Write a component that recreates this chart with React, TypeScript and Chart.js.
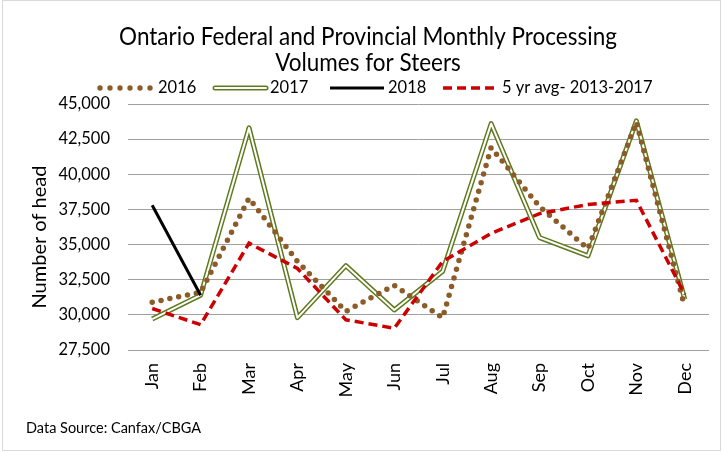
import React, { useEffect, useRef } from 'react';
import { Chart, registerables } from 'chart.js';

Chart.register(...registerables);

const months = ['Jan', 'Feb', 'Mar', 'Apr', 'May', 'Jun', 'Jul', 'Aug', 'Sep', 'Oct', 'Nov', 'Dec'];
const v2016 = [30900, 31600, 38300, 33800, 30250, 32100, 29800, 41900, 37700, 34700, 43700, 30550];
const v2017 = [29700, 31400, 43300, 29800, 33500, 30350, 33100, 43600, 35500, 34200, 43800, 31100];
const v2018 = [37800, 31400];
const v5yr = [30450, 29300, 35100, 33300, 29650, 29050, 33800, 35800, 37200, 37850, 38150, 31450];

const yMin = 27500;
const yMax = 45000;
const yStep = 2500;

const titleLines = ['Ontario Federal and Provincial Monthly Processing', 'Volumes for Steers'];
const legendLabels = ['2016', '2017', '2018', '5 yr avg- 2013-2017'];
const yTitle = 'Number of head';
const sourceText = 'Data Source: Canfax/CBGA';

const C2016 = '#8c5c28';
const C2017 = '#5f7a1e';
const C2018 = '#000000';
const C5YR = '#cc0000';
const FONT = 'Lato, "Liberation Sans", sans-serif';

const decor = {
  id: 'decor',
  afterDraw(chart: any) {
    const ctx: CanvasRenderingContext2D = chart.ctx;
    ctx.save();
    // outer border
    ctx.strokeStyle = '#d9d9d9';
    ctx.lineWidth = 1;
    ctx.strokeRect(2.5, 0.5, 718, 450);

    // title (slightly stretched vertically like the source image)
    ctx.fillStyle = '#000';
    ctx.textAlign = 'center';
    ctx.textBaseline = 'middle';
    ctx.font = `22.5px ${FONT}`;
    titleLines.forEach((t, i) => {
      ctx.save();
      ctx.translate(368, 37 + i * 26);
      ctx.scale(1, 1.12);
      ctx.fillText(t, 0, 0);
      ctx.restore();
    });

    // legend
    const ly = 88;
    ctx.font = `16.5px ${FONT}`;
    ctx.textAlign = 'left';
    ctx.fillStyle = C2016;
    for (let i = 0; i < 6; i++) {
      ctx.beginPath();
      ctx.arc(100 + i * 10, ly, 2.7, 0, Math.PI * 2);
      ctx.fill();
    }
    ctx.fillStyle = '#000';
    ctx.fillText(legendLabels[0], 158, ly);
    ctx.lineCap = 'round';
    ctx.strokeStyle = C2017;
    ctx.lineWidth = 5;
    ctx.beginPath(); ctx.moveTo(215, ly); ctx.lineTo(266, ly); ctx.stroke();
    ctx.strokeStyle = '#fff';
    ctx.lineWidth = 2;
    ctx.beginPath(); ctx.moveTo(215, ly); ctx.lineTo(266, ly); ctx.stroke();
    ctx.fillText(legendLabels[1], 270, ly);
    ctx.strokeStyle = C2018;
    ctx.lineWidth = 3;
    ctx.lineCap = 'butt';
    ctx.beginPath(); ctx.moveTo(330, ly); ctx.lineTo(384, ly); ctx.stroke();
    ctx.fillText(legendLabels[2], 388, ly);
    ctx.strokeStyle = C5YR;
    ctx.lineWidth = 3.5;
    ctx.setLineDash([9, 5]);
    ctx.beginPath(); ctx.moveTo(443, ly); ctx.lineTo(497, ly); ctx.stroke();
    ctx.setLineDash([]);
    ctx.fillText(legendLabels[3], 502, ly);

    // y title
    ctx.save();
    ctx.font = `20px ${FONT}`;
    ctx.textAlign = 'center';
    ctx.translate(40, 237);
    ctx.rotate(-Math.PI / 2);
    ctx.fillText(yTitle, 0, 0);
    ctx.restore();

    // source
    ctx.font = `14.5px ${FONT}`;
    ctx.textAlign = 'left';
    ctx.fillText(sourceText, 26, 428);
    ctx.restore();
  },
};

export default function App() {
  const ref = useRef<HTMLCanvasElement>(null);
  useEffect(() => {
    if (!ref.current) return;
    const chart = new Chart(ref.current, {
      type: 'line',
      data: {
        labels: months,
        datasets: [
          {
            label: '2018', data: v2018, borderColor: C2018, borderWidth: 3,
            pointRadius: 0, tension: 0, fill: false,
          },
          {
            label: '5 yr avg- 2013-2017', data: v5yr, borderColor: C5YR, borderWidth: 3.5,
            borderDash: [9, 5], pointRadius: 0, tension: 0, fill: false,
          },
          {
            label: '2016', data: v2016, borderColor: C2016, borderWidth: 5.5,
            borderDash: [0, 9], borderCapStyle: 'round', pointRadius: 0, tension: 0, fill: false,
          },
          {
            label: '2017 inner', data: v2017, borderColor: '#ffffff', borderWidth: 2,
            pointRadius: 0, tension: 0, fill: false, borderJoinStyle: 'round',
          },
          {
            label: '2017', data: v2017, borderColor: C2017, borderWidth: 5,
            pointRadius: 0, tension: 0, fill: false, borderJoinStyle: 'round',
          },
        ],
      },
      options: {
        responsive: false,
        animation: false,
        layout: { padding: { top: 104, left: 0, right: 14, bottom: 0 } },
        plugins: {
          legend: { display: false },
          title: { display: false },
          tooltip: { enabled: false },
        },
        scales: {
          x: {
            offset: true,
            grid: { display: false, drawTicks: false, offset: true },
            border: { display: false },
            ticks: {
              color: '#000', font: { family: FONT, size: 18 },
              maxRotation: 90, minRotation: 90, padding: 13,
            },
            afterFit: (s: any) => { s.height = 102; },
          },
          y: {
            min: yMin, max: yMax,
            grid: { color: '#a0a0a0', lineWidth: 1, drawTicks: false },
            border: { display: false },
            ticks: {
              stepSize: yStep, color: '#000', font: { family: FONT, size: 16.5 }, padding: 18,
              callback: (v: any) => Number(v).toLocaleString('en-US'),
            },
            afterFit: (s: any) => { s.width = 128; },
          },
        },
      },
      plugins: [decor],
    });
    return () => chart.destroy();
  }, []);
  return (
    <canvas
      ref={ref}
      width={723}
      height={452}
      style={{ position: 'absolute', left: 0, top: 0, width: 723, height: 452 }}
    />
  );
}
